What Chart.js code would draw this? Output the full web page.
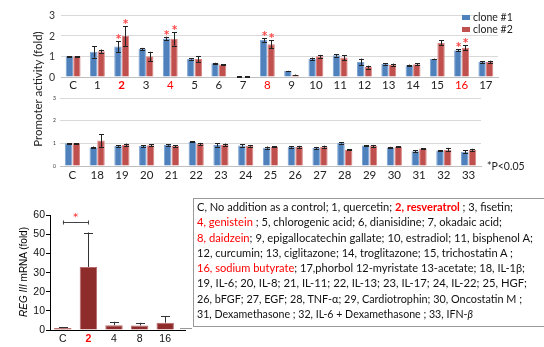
<!DOCTYPE html>
<html><head><meta charset="utf-8">
<script src="https://cdn.jsdelivr.net/npm/chart.js@4"></script>
<style>
body{margin:0;width:544px;height:347px;position:relative;background:#fff;overflow:hidden;font-family:Lato,'Open Sans',sans-serif;}
canvas{position:absolute}
.abs{position:absolute;white-space:nowrap}
.ylab{position:absolute;white-space:nowrap;text-align:right;width:24px;color:#333;z-index:5;font-family:Lato,sans-serif}
.rot{position:absolute;width:0;height:0}
.rot span{position:absolute;white-space:nowrap;transform:translate(-50%,-50%) rotate(-90deg);}
.box{position:absolute;left:193px;top:198px;width:360px;height:129px;border:1px solid #999;box-sizing:border-box;padding:0 0 0 3px;font-size:11.4px;line-height:15.3px;color:#111}
.box div{white-space:nowrap}
.box div span.ln{display:inline-block;transform-origin:0 50%}
.r{color:#ff0000}
.b{font-weight:bold}
.leg{position:absolute;font-size:10.5px;color:#222;white-space:nowrap}
.leg b{display:inline-block;width:8px;height:5px;margin-right:3px;vertical-align:middle;position:relative;top:-1px}
</style></head><body>
<canvas id="cTop" width="468" height="83" style="left:31px;top:9px"></canvas>
<canvas id="cMid" width="452" height="88" style="left:30px;top:94px"></canvas>
<canvas id="cReg" width="168" height="138" style="left:20px;top:208px"></canvas>

<div class="rot" style="left:37px;top:89px"><span style="font-size:11.5px;color:#222">Promoter activity (fold)</span></div>
<div class="rot" style="left:23px;top:272px"><span style="font-size:10px;font-family:'Liberation Sans',Arial,sans-serif;color:#000"><em>REG III</em> mRNA (fold)</span></div>

<div class="leg" style="left:462px;top:11px"><b style="background:#4f81bd"></b>clone #1</div>
<div class="leg" style="left:462px;top:23px"><b style="background:#c0504d"></b>clone #2</div>
<div class="abs" style="left:487px;top:160px;font-size:10.5px;color:#222">*P&lt;0.05</div>

<div class="abs" style="left:180px;top:328px;width:12px;height:1px;background:#999"></div>
<div class="box">
<div><span class="ln" data-w="316">C, No addition as a control; 1, quercetin; <span class="r b">2, resveratrol</span> ; 3, fisetin;</span></div>
<div><span class="ln" data-w="305"><span class="r">4, genistein</span> ; 5, chlorogenic acid; 6, dianisidine; 7, okadaic acid;</span></div>
<div><span class="ln" data-w="336"><span class="r">8, daidzein</span>; 9, epigallocatechin gallate; 10, estradiol; 11, bisphenol A;</span></div>
<div><span class="ln" data-w="316">12, curcumin; 13, ciglitazone; 14, troglitazone; 15, trichostatin A ;</span></div>
<div><span class="ln" data-w="328"><span class="r">16, sodium butyrate</span>; 17,phorbol 12-myristate 13-acetate; 18, IL-1β;</span></div>
<div><span class="ln" data-w="330">19, IL-6; 20, IL-8; 21, IL-11; 22, IL-13; 23, IL-17; 24, IL-22; 25, HGF;</span></div>
<div><span class="ln" data-w="325">26, bFGF; 27, EGF; 28, TNF-α; 29, Cardiotrophin; 30, Oncostatin M ;</span></div>
<div><span class="ln" data-w="276">31, Dexamethasone ; 32, IL-6 + Dexamethasone ; 33, IFN-<i>β</i></span></div>
</div>

<script>
// ---- data ----
const topCategories = ['C','1','2','3','4','5','6','7','8','9','10','11','12','13','14','15','16','17'];
const topClone1    = [1.00,1.22,1.47,1.35,1.86,0.87,0.67,0.02,1.79,0.29,0.87,1.05,0.73,0.63,0.57,0.87,1.30,0.72];
const topClone1Err = [0.01,0.28,0.26,0.06,0.09,0.03,0.02,0.01,0.08,0.01,0.07,0.06,0.16,0.03,0.03,0.02,0.05,0.04];
const topClone2    = [1.00,1.25,1.98,1.00,1.84,0.87,0.61,0.03,1.58,0.10,1.00,0.94,0.48,0.58,0.62,1.65,1.42,0.73];
const topClone2Err = [0.01,0.08,0.48,0.22,0.32,0.15,0.01,0.02,0.20,0.02,0.07,0.12,0.07,0.07,0.05,0.12,0.12,0.06];
const significant = ['2','4','8','16'];

const midCategories = ['C','18','19','20','21','22','23','24','25','26','27','28','29','30','31','32','33'];
const midClone1    = [1.00,0.82,0.88,0.88,0.93,1.07,0.93,0.90,0.81,0.84,0.79,1.02,0.90,0.82,0.65,0.68,0.63];
const midClone1Err = [0.01,0.04,0.04,0.04,0.04,0.02,0.07,0.05,0.05,0.04,0.05,0.03,0.02,0.03,0.05,0.02,0.06];
const midClone2    = [1.00,1.12,0.93,0.92,0.88,0.97,0.93,0.89,0.85,0.84,0.85,0.72,0.88,0.85,0.77,0.72,0.71];
const midClone2Err = [0.01,0.28,0.06,0.05,0.04,0.05,0.06,0.04,0.03,0.05,0.05,0.02,0.05,0.03,0.02,0.08,0.05];
const promoterTicks = [0,1,2,3];

const regCategories = ['C','2','4','8','16'];
const regValues = [1.0,33.0,2.5,2.4,3.8];
const regErr    = [0.5,18.0,1.8,1.4,3.4];
const regTicks  = [0,10,20,30,40,50,60];
const regBracketY = 56.5;

// fit each legend-text line to its measured width in the reference
document.querySelectorAll('.box .ln').forEach(el=>{
  const fit = ()=>{ el.style.transform='none'; const w = el.getBoundingClientRect().width; if(w>0) el.style.transform='scaleX('+(el.dataset.w/w)+')'; };
  fit(); if(document.fonts) document.fonts.ready.then(fit);
});

const labelOf = c => (c && c.tick && c.tick.label != null) ? String(c.tick.label) : '';

// y tick labels as text placed from the chart's own y scale
function addYTickText(chart, size, pad){
  const cv = chart.canvas, ys = chart.scales.y, a = chart.chartArea;
  const lh = Math.ceil(size*1.3);
  ys.ticks.forEach(t=>{
    const d = document.createElement('div');
    d.className = 'ylab';
    d.textContent = String(t.value);
    d.style.fontSize = size + 'px';
    d.style.lineHeight = lh + 'px';
    d.style.left = (cv.offsetLeft + a.left - pad - 24) + 'px';
    d.style.top = (cv.offsetTop + ys.getPixelForValue(t.value) - lh/2) + 'px';
    document.body.appendChild(d);
  });
}

// ---- plugins ----
const errorBars = {
  id:'errorBars',
  afterDatasetsDraw(chart){
    const ctx = chart.ctx, ys = chart.scales.y;
    chart.data.datasets.forEach((ds,i)=>{
      const meta = chart.getDatasetMeta(i);
      const errs = ds.errors || [];
      meta.data.forEach((bar,j)=>{
        const v = ds.data[j], e = errs[j] || 0;
        const x = Math.round(bar.x);
        const yT = ys.getPixelForValue(v+e);
        const yB = ys.getPixelForValue(ds.upperOnly ? v : v-e);
        const cw = ds.capWidth || 2;
        ctx.save();
        ctx.strokeStyle = ds.errColor || '#222'; ctx.lineWidth = 1;
        ctx.beginPath();
        ctx.moveTo(x+0.5,yT); ctx.lineTo(x+0.5,yB);
        ctx.moveTo(x-cw,Math.round(yT)+0.5); ctx.lineTo(x+cw+1,Math.round(yT)+0.5);
        if(!ds.upperOnly){ctx.moveTo(x-cw,Math.round(yB)+0.5); ctx.lineTo(x+cw+1,Math.round(yB)+0.5);}
        ctx.stroke();
        const stars = ds.stars || [];
        if(stars.indexOf(String(chart.data.labels[j])) >= 0){
          ctx.fillStyle='#ff4a4a'; ctx.font='bold 10px "DejaVu Sans"'; ctx.textAlign='center'; ctx.textBaseline='alphabetic';
          ctx.fillText('*', x+0.5, yT+1);
        }
        ctx.restore();
      });
    });
  }
};
const regExtras = {
  id:'regExtras',
  afterDraw(chart){
    const ctx = chart.ctx, ys = chart.scales.y, xs = chart.scales.x, a = chart.chartArea;
    ctx.save();
    ctx.strokeStyle='#000'; ctx.lineWidth=1;
    const y0 = Math.round(ys.getPixelForValue(0))+0.5;
    ctx.beginPath(); ctx.moveTo(a.left,y0); ctx.lineTo(a.right+8,y0); ctx.stroke();
    const x1 = xs.getPixelForValue(0), x2 = xs.getPixelForValue(1);
    const yb = Math.round(ys.getPixelForValue(regBracketY))+0.5;
    ctx.strokeStyle='#444';
    ctx.beginPath(); ctx.moveTo(x1,yb); ctx.lineTo(x2,yb);
    ctx.moveTo(Math.round(x1)+0.5,yb-2); ctx.lineTo(Math.round(x1)+0.5,yb+2);
    ctx.moveTo(Math.round(x2)+0.5,yb-2); ctx.lineTo(Math.round(x2)+0.5,yb+2); ctx.stroke();
    ctx.fillStyle='#ff4a4a'; ctx.font='bold 9px "DejaVu Sans"'; ctx.textAlign='center';
    ctx.fillText('*',(x1+x2)/2, yb-3);
    ctx.restore();
  }
};

Chart.defaults.font.family = 'Lato';
Chart.defaults.animation = false;

function promoterChart(id, cats, c1, c1e, c2, c2e, opts){
  const ch = new Chart(document.getElementById(id), {
    type:'bar',
    data:{labels:cats, datasets:[
      {data:c1, errors:c1e, stars:opts.stars, backgroundColor:'#4f81bd', borderColor:'#7da3d3', borderWidth:1, borderSkipped:'bottom', capWidth:2, categoryPercentage:0.62, barPercentage:0.98},
      {data:c2, errors:c2e, stars:opts.stars, backgroundColor:'#c0504d', borderColor:'#d98583', borderWidth:1, borderSkipped:'bottom', capWidth:2, categoryPercentage:0.62, barPercentage:0.98}
    ]},
    options:{
      responsive:false, devicePixelRatio:1,
      layout:{padding:{top:opts.padTop,right:1,left:0,bottom:0}},
      plugins:{legend:{display:false}},
      scales:{
        x:{grid:{display:false, drawTicks:false}, border:{display:true,color:'#bfbfbf'},
           ticks:{padding:opts.xPad, maxRotation:0, autoSkip:false,
             color: c => significant.indexOf(labelOf(c)) >= 0 ? '#ff0000' : '#222',
             font: c => ({size:11.5, weight: labelOf(c)==='2' ? 'bold':'normal'})},
           afterFit: s => { s.height = opts.xH; }},
        y:{min:0,max:3, afterBuildTicks: s => { s.ticks = promoterTicks.map(v=>({value:v})); },
           grid:{color:'#d9d9d9', drawTicks:false}, border:{display:false},
           ticks:{display:false, font:{size:opts.ySize}},
           afterFit: s => { s.width = 30; }}
      }
    },
    plugins:[errorBars]
  });
  addYTickText(ch, opts.ySize, opts.yPad);
  return ch;
}

promoterChart('cTop', topCategories, topClone1, topClone1Err, topClone2, topClone2Err,
  {stars:significant, padTop:6, xPad:1, xH:15, yPad:6, ySize:10.5});
promoterChart('cMid', midCategories, midClone1, midClone1Err, midClone2, midClone2Err,
  {stars:[], padTop:4, xPad:2, xH:16, yPad:4, ySize:5});

new Chart(document.getElementById('cReg'), {
  type:'bar',
  data:{labels:regCategories, datasets:[{data:regValues, errors:regErr, upperOnly:true, capWidth:4, errColor:'#333',
    backgroundColor:'#8e2b2b', borderColor:'#b86a6a', borderWidth:1, borderSkipped:'bottom', categoryPercentage:0.68, barPercentage:1}]},
  options:{
    responsive:false, devicePixelRatio:1,
    layout:{padding:{top:0,right:10,left:0,bottom:0}},
    plugins:{legend:{display:false}},
    scales:{
      x:{grid:{display:false, drawTicks:false}, border:{display:false},
         ticks:{padding:3, maxRotation:0, autoSkip:false,
           color: c => labelOf(c)==='2' ? '#ff0000' : '#111',
           font: c => ({family:'Liberation Sans', size:10.5, weight: labelOf(c)==='2' ? 'bold':'normal'})},
         afterFit: s => { s.height = 16; }},
      y:{min:0,max:60, afterBuildTicks: s => { s.ticks = regTicks.map(v=>({value:v})); },
         grid:{drawOnChartArea:false, drawTicks:true, tickLength:4, color:'#000'},
         border:{display:true,color:'#000'},
         ticks:{padding:1, color:'#111', font:{family:'Liberation Sans', size:10.5}},
         afterFit: s => { s.width = 30; }}
    }
  },
  plugins:[errorBars, regExtras]
});
</script>
</body></html>
